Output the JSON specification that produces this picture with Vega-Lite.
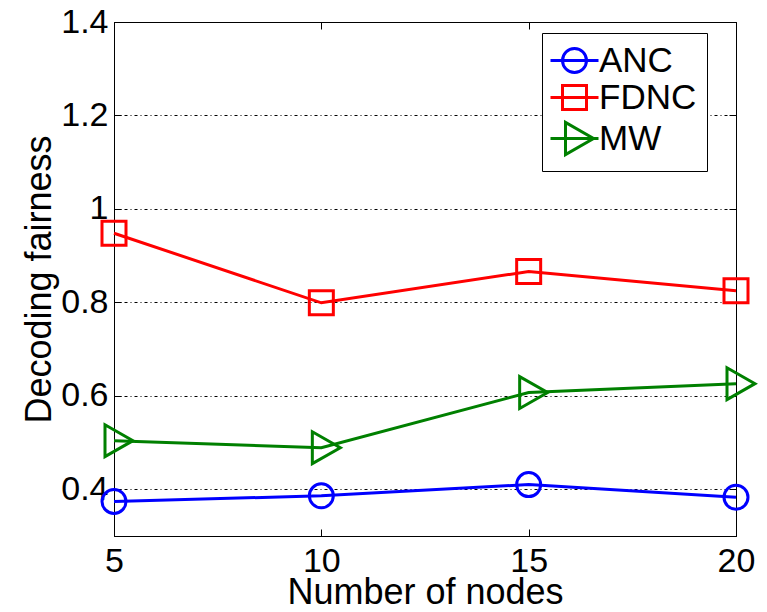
{
  "$schema": "https://vega.github.io/schema/vega-lite/v6.json",
  "width": 622,
  "height": 514,
  "autosize": {"type": "none"},
  "padding": {"left": 114, "top": 22, "right": 31, "bottom": 76},
  "background": "white",
  "config": {
    "view": {"stroke": "black", "strokeWidth": 1},
    "font": "Liberation Sans",
    "axis": {
      "labelFont": "Liberation Sans",
      "titleFont": "Liberation Sans",
      "labelColor": "black",
      "titleColor": "black",
      "labelFontSize": 34,
      "titleFontSize": 36,
      "titleFontWeight": "normal",
      "domainColor": "black",
      "domainWidth": 1,
      "tickColor": "black",
      "tickSize": -7,
      "tickWidth": 1
    }
  },
  "data": {
    "values": [
      {"nodes": 5, "fairness": 0.374, "scheme": "ANC"},
      {"nodes": 10, "fairness": 0.386, "scheme": "ANC"},
      {"nodes": 15, "fairness": 0.41, "scheme": "ANC"},
      {"nodes": 20, "fairness": 0.383, "scheme": "ANC"},
      {"nodes": 5, "fairness": 0.948, "scheme": "FDNC"},
      {"nodes": 10, "fairness": 0.799, "scheme": "FDNC"},
      {"nodes": 15, "fairness": 0.866, "scheme": "FDNC"},
      {"nodes": 20, "fairness": 0.825, "scheme": "FDNC"},
      {"nodes": 5, "fairness": 0.504, "scheme": "MW"},
      {"nodes": 10, "fairness": 0.489, "scheme": "MW"},
      {"nodes": 15, "fairness": 0.607, "scheme": "MW"},
      {"nodes": 20, "fairness": 0.626, "scheme": "MW"}
    ]
  },
  "resolve": {
    "scale": {"color": "independent", "shape": "independent"},
    "axis": {"x": "independent", "y": "independent"}
  },
  "layer": [
    {
      "mark": {"type": "line", "strokeWidth": 3},
      "encoding": {
        "x": {
          "field": "nodes",
          "type": "quantitative",
          "scale": {"domain": [5, 20], "nice": false, "zero": false},
          "axis": {
            "values": [5, 10, 15, 20],
            "title": "Number of nodes",
            "grid": false,
            "labelFlush": false,
            "labelPadding": 15,
            "titlePadding": -3
          }
        },
        "y": {
          "field": "fairness",
          "type": "quantitative",
          "scale": {"domain": [0.3, 1.4], "nice": false, "zero": false},
          "axis": {
            "values": [0.4, 0.6, 0.8, 1, 1.2, 1.4],
            "format": ".1~f",
            "title": "Decoding fairness",
            "grid": true,
            "gridColor": "black",
            "gridDash": [3, 3, 1, 3],
            "gridWidth": 1,
            "labelPadding": 13,
            "titlePadding": 2
          }
        },
        "color": {
          "field": "scheme",
          "type": "nominal",
          "scale": {"domain": ["ANC", "FDNC", "MW"], "range": ["#0000ff", "#ff0000", "#008000"]},
          "legend": null
        }
      }
    },
    {
      "mark": {"type": "point", "filled": false, "strokeWidth": 3, "size": 576, "opacity": 1},
      "encoding": {
        "x": {"field": "nodes", "type": "quantitative", "axis": null},
        "y": {"field": "fairness", "type": "quantitative", "axis": null},
        "color": {
          "field": "scheme",
          "type": "nominal",
          "scale": {"domain": ["ANC", "FDNC", "MW"], "range": ["#0000ff", "#ff0000", "#008000"]},
          "legend": null
        },
        "shape": {
          "field": "scheme",
          "type": "nominal",
          "scale": {"domain": ["ANC", "FDNC", "MW"], "range": ["circle", "square", "M-0.75,-1.33L-0.75,1.33L1.58,0Z"]},
          "legend": null
        }
      }
    },
    {
      "transform": [{"filter": "datum.nodes < 0"}],
      "mark": {"type": "point", "filled": false, "strokeWidth": 3, "size": 900, "opacity": 1},
      "encoding": {
        "x": {
          "field": "nodes",
          "type": "quantitative",
          "axis": {"orient": "top", "labels": false, "title": null, "values": [10, 15], "grid": false}
        },
        "y": {
          "field": "fairness",
          "type": "quantitative",
          "axis": {"orient": "right", "labels": false, "title": null, "values": [0.4, 0.6, 0.8, 1, 1.2], "grid": false}
        },
        "color": {
          "field": "scheme",
          "type": "nominal",
          "scale": {"domain": ["ANC", "FDNC", "MW"], "range": ["#0000ff", "#ff0000", "#008000"]},
          "legend": {
            "title": null,
            "orient": "none",
            "legendX": 428,
            "legendY": 11,
            "strokeColor": "black",
            "fillColor": "white",
            "padding": 10,
            "labelFont": "Liberation Sans",
            "labelFontSize": 35,
            "labelColor": "black",
            "symbolSize": 900,
            "symbolStrokeWidth": 3,
            "symbolOffset": 5,
            "labelOffset": 7,
            "rowPadding": 0
          }
        },
        "shape": {
          "field": "scheme",
          "type": "nominal",
          "scale": {
            "domain": ["ANC", "FDNC", "MW"],
            "range": [
              "M-1.6,0H1.6M-0.8,0A0.8,0.8 0 1,0 0.8,0A0.8,0.8 0 1,0 -0.8,0",
              "M-1.6,0H1.6M-0.8,-0.8H0.8V0.8H-0.8Z",
              "M-1.6,0H1.6M-0.6,-1.07L-0.6,1.07L1.27,0Z"
            ]
          },
          "legend": {
            "title": null,
            "orient": "none",
            "legendX": 428,
            "legendY": 11,
            "strokeColor": "black",
            "fillColor": "white",
            "padding": 10,
            "labelFont": "Liberation Sans",
            "labelFontSize": 35,
            "labelColor": "black",
            "symbolSize": 900,
            "symbolStrokeWidth": 3,
            "symbolOffset": 5,
            "labelOffset": 7,
            "rowPadding": 0
          }
        }
      }
    }
  ]
}
